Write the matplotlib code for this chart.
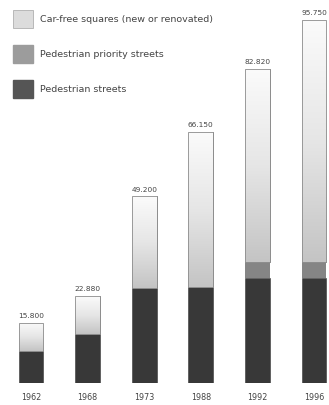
import numpy as np
import matplotlib
matplotlib.use("Agg")
import matplotlib.pyplot as plt
from matplotlib.patches import Patch
from matplotlib.colors import LinearSegmentedColormap

years = ["1962", "1968", "1973", "1988", "1992", "1996"]
totals = [15800, 22880, 49200, 66150, 82820, 95750]
total_labels = ["15.800", "22.880", "49.200", "66.150", "82.820", "95.750"]
pedestrian_streets = [8400, 12900, 25100, 25300, 27700, 27700]
priority_streets = [0, 0, 0, 0, 4200, 4200]
car_free_squares = [t - p - q for t, p, q in zip(totals, pedestrian_streets, priority_streets)]

labels = ["Car-free squares (new or renovated)",
          "Pedestrian priority streets",
          "Pedestrian streets"]

c_dark = "#383838"
c_mid = "#858585"
c_light = "#dcdcdc"
edge = "#8c8c8c"

fig = plt.figure(figsize=(3.29, 4.05), dpi=100)
ax = fig.add_axes([0, 22 / 405, 1, 383 / 405])
ax.set_xlim(-0.548, 5.265)
ax.set_ylim(0, 101000)
ax.axis("off")

x = np.arange(len(years))
w = 0.44

b1 = ax.bar(x, pedestrian_streets, w, color=c_dark, edgecolor=c_dark, linewidth=0.4)
b2 = ax.bar(x, priority_streets, w, bottom=pedestrian_streets, color=c_mid,
            edgecolor=c_mid, linewidth=0)
bottom3 = np.array(pedestrian_streets) + np.array(priority_streets)
b3 = ax.bar(x, car_free_squares, w, bottom=bottom3, color="white",
            edgecolor=edge, linewidth=0.6)

# gradient fill for the squares segment (white at top to light gray)
cmap = LinearSegmentedColormap.from_list("sq", ["#c4c4c4", "#e6e6e6", "#fbfbfb"])
grad = np.linspace(0, 1, 256).reshape(-1, 1)
for rect in b3:
    x0, y0 = rect.get_x(), rect.get_y()
    im = ax.imshow(grad, cmap=cmap, origin="lower", aspect="auto",
                   extent=[x0, x0 + rect.get_width(), y0, y0 + rect.get_height()],
                   zorder=rect.get_zorder() + 0.1)
    im.set_clip_path(rect)
    ax.add_patch(plt.Rectangle((x0, y0), rect.get_width(), rect.get_height(),
                               fill=False, edgecolor=edge, linewidth=0.6,
                               zorder=rect.get_zorder() + 0.2))

for xi, t, lab in zip(x, totals, total_labels):
    ax.text(xi, t + 1000, lab, ha="center", va="bottom", fontsize=5.3, color="#444444")

for xi, yr in zip(x, years):
    ax.text(xi, -2700, yr, ha="center", va="top", fontsize=5.8, color="#444444")

handles = [Patch(facecolor=c_light, edgecolor="#b0b0b0", linewidth=0.6),
           Patch(facecolor="#9c9c9c", edgecolor="#9c9c9c"),
           Patch(facecolor="#555555", edgecolor="#555555")]
ax.legend(handles, labels, loc="upper left", bbox_to_anchor=(13 / 329, 1 - 10 / 405),
          bbox_transform=fig.transFigure, frameon=False, fontsize=6.8,
          handlelength=2.12, handleheight=2.56, labelspacing=1.8, handletextpad=0.74,
          borderpad=0, borderaxespad=0, labelcolor="#444444")

fig.savefig("out.png", dpi=100)
